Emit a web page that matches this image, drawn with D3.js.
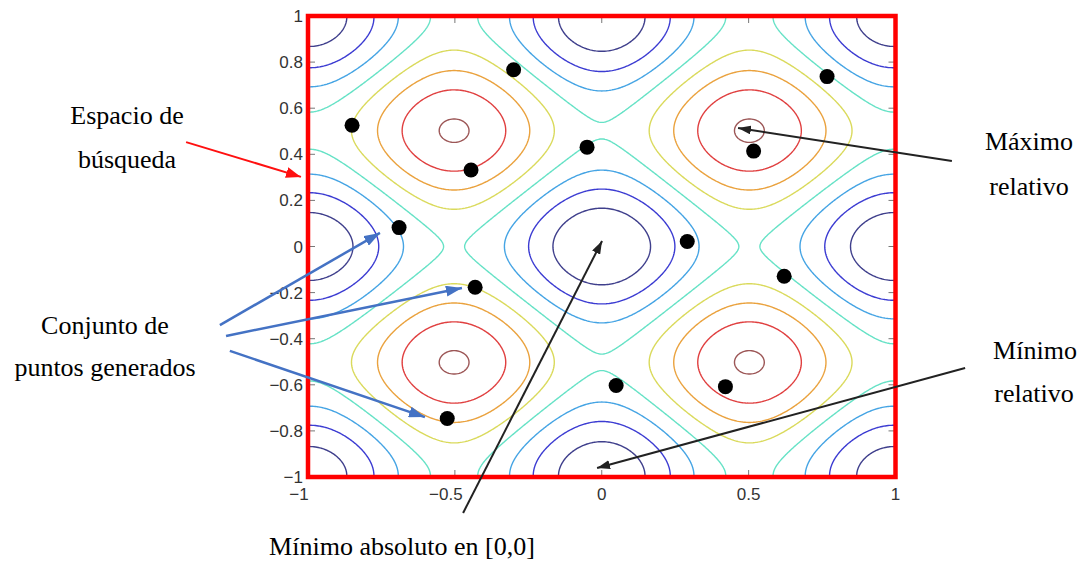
<!DOCTYPE html>
<html>
<head>
<meta charset="utf-8">
<script src="https://cdn.jsdelivr.net/npm/d3@7"></script>
</head>
<body style="margin:0;background:#fff">
<div id="chart"></div>
<script>
// contour levels of the Rastrigin surface and their colours
const levels = [5, 10, 15, 20, 25, 30, 35, 40];
const levelColors = ["#3f3f8c", "#3c3cd2", "#45a4e4", "#66e2c6", "#dada5c", "#eaa23e", "#e04040", "#9c5656"];

// tick values
const xTicks = [-1, -0.5, 0, 0.5, 1];
const yTicks = [-1, -0.8, -0.6, -0.4, -0.2, 0, 0.2, 0.4, 0.6, 0.8, 1];

// generated points
const pointsX = [-0.30, -0.85, -0.445, -0.05, -0.69, 0.767, 0.517, 0.291, -0.431, -0.526, 0.621, 0.049, 0.421];
const pointsY = [0.767, 0.526, 0.332, 0.431, 0.082, 0.737, 0.414, 0.022, -0.177, -0.746, -0.129, -0.603, -0.608];

const width = 1081, height = 561;
const x0 = 308, x1 = 895.5, y0 = 16, y1 = 477;
const sans = "'Liberation Sans', Arial, Helvetica, sans-serif";
const serif = "'Liberation Serif', 'Times New Roman', 'DejaVu Serif', serif";

const svg = d3.select("#chart").append("svg")
    .attr("width", width)
    .attr("height", height);

let x = d3.scaleLinear().domain([-1, 1]).range([x0, x1]),
    y = d3.scaleLinear().domain([-1, 1]).range([y1, y0]);

// arrow markers
const defs = svg.append("defs");
function marker(id, color, len, wid) {
  defs.append("marker")
      .attr("id", id)
      .attr("viewBox", "0 0 " + len + " " + wid)
      .attr("refX", len).attr("refY", wid / 2)
      .attr("markerUnits", "userSpaceOnUse")
      .attr("markerWidth", len).attr("markerHeight", wid)
      .attr("orient", "auto")
      .append("path")
      .attr("d", "M0,0L" + len + "," + (wid / 2) + "L0," + wid + "Z")
      .attr("fill", color);
}
marker("head-red", "#ff1010", 15, 11);
marker("head-blue", "#4472c4", 16, 11);
marker("head-black", "#222", 13, 9);

defs.append("clipPath").attr("id", "plot-clip")
  .append("rect")
    .attr("x", x0).attr("y", y0)
    .attr("width", x1 - x0).attr("height", y1 - y0);

// Rastrigin field on a grid
function rastrigin(a, b) {
  return 20 + a * a + b * b - 10 * (Math.cos(2 * Math.PI * a) + Math.cos(2 * Math.PI * b));
}
const n = 401;
const values = new Array(n * n);
for (let j = 0; j < n; j++) {
  for (let i = 0; i < n; i++) {
    values[j * n + i] = rastrigin(-1 + 2 * i / (n - 1), 1 - 2 * j / (n - 1));
  }
}

const contours = d3.contours().size([n, n]).thresholds(levels)(values);

const toPx = d3.geoTransform({
  point: function(gx, gy) {
    this.stream.point(x(-1 + 2 * (gx - 0.5) / (n - 1)), y(1 - 2 * (gy - 0.5) / (n - 1)));
  }
});
const path = d3.geoPath(toPx);

const plot = svg.append("g").attr("clip-path", "url(#plot-clip)");

plot.selectAll(".contour")
    .data(contours)
    .enter().append("path")
    .attr("class", "contour")
    .attr("d", path)
    .attr("fill", "none")
    .attr("stroke", d => levelColors[levels.indexOf(d.value)])
    .attr("stroke-width", 1.4)
    .attr("stroke-linejoin", "round");

// inner tick marks
const tickG = svg.append("g").attr("stroke", "#777").attr("stroke-width", 1);
xTicks.forEach(t => {
  tickG.append("line").attr("x1", x(t)).attr("x2", x(t)).attr("y1", y1).attr("y2", y1 - 7);
  tickG.append("line").attr("x1", x(t)).attr("x2", x(t)).attr("y1", y0).attr("y2", y0 + 7);
});
yTicks.forEach(t => {
  tickG.append("line").attr("x1", x0).attr("x2", x0 + 7).attr("y1", y(t)).attr("y2", y(t));
  tickG.append("line").attr("x1", x1).attr("x2", x1 - 7).attr("y1", y(t)).attr("y2", y(t));
});

// tick labels
const fmt = v => (v < 0 ? "\u2212" : "") + String(Math.abs(v));
svg.selectAll(".xlab")
    .data(xTicks)
    .enter().append("text")
    .attr("class", "xlab")
    .attr("font-family", sans)
    .attr("font-size", 17)
    .attr("fill", "#333")
    .attr("x", d => x(d) + (d < 0 ? -9 : 0))
    .attr("y", 500)
    .attr("text-anchor", "middle")
    .text(fmt);

svg.selectAll(".ylab")
    .data(yTicks)
    .enter().append("text")
    .attr("class", "ylab")
    .attr("font-family", sans)
    .attr("font-size", 17)
    .attr("fill", "#333")
    .attr("x", 303)
    .attr("y", d => y(d) + 6)
    .attr("text-anchor", "end")
    .text(fmt);

// points
svg.selectAll(".pt")
    .data(pointsX.map((v, i) => [v, pointsY[i]]))
    .enter().append("circle")
    .attr("class", "pt")
    .attr("cx", d => x(d[0]))
    .attr("cy", d => y(d[1]))
    .attr("r", 7.5)
    .attr("fill", "#000");

// red frame: search space
svg.append("rect")
    .attr("x", x0).attr("y", y0)
    .attr("width", x1 - x0).attr("height", y1 - y0)
    .attr("fill", "none")
    .attr("stroke", "#ff0000")
    .attr("stroke-width", 4.5);

// annotation arrows (data coordinates: start -> tip)
const arrows = [
  {from: [-1.415, 0.453], to: [-1.024, 0.302], color: "#ff1010", w: 2, head: "head-red"},
  {from: [-1.300, -0.341], to: [-0.755, 0.059], color: "#4472c4", w: 2.5, head: "head-blue"},
  {from: [-1.279, -0.388], to: [-0.476, -0.180], color: "#4472c4", w: 2.5, head: "head-blue"},
  {from: [-1.266, -0.453], to: [-0.602, -0.740], color: "#4472c4", w: 2.5, head: "head-blue"},
  {from: [1.192, 0.371], to: [0.464, 0.514], color: "#222", w: 2, head: "head-black"},
  {from: [1.237, -0.527], to: [-0.016, -0.961], color: "#222", w: 2, head: "head-black"},
  {from: [-0.472, -1.156], to: [0.001, 0.024], color: "#222", w: 2, head: "head-black"}
];
svg.selectAll(".arrow")
    .data(arrows)
    .enter().append("line")
    .attr("class", "arrow")
    .attr("x1", d => x(d.from[0])).attr("y1", d => y(d.from[1]))
    .attr("x2", d => x(d.to[0])).attr("y2", d => y(d.to[1]))
    .attr("stroke", d => d.color)
    .attr("stroke-width", d => d.w)
    .attr("marker-end", d => "url(#" + d.head + ")");

// annotation texts
const notes = [
  {t: "Espacio de", x: 127, y: 124},
  {t: "búsqueda", x: 127, y: 168},
  {t: "Conjunto de", x: 105, y: 334},
  {t: "puntos generados", x: 105, y: 376},
  {t: "Máximo", x: 1029, y: 150},
  {t: "relativo", x: 1029, y: 195},
  {t: "Mínimo", x: 1035, y: 359},
  {t: "relativo", x: 1034, y: 402},
  {t: "Mínimo absoluto en [0,0]", x: 402, y: 555}
];
svg.selectAll(".note")
    .data(notes)
    .enter().append("text")
    .attr("class", "note")
    .attr("font-family", serif)
    .attr("font-size", 26)
    .attr("fill", "#000")
    .attr("x", d => d.x).attr("y", d => d.y)
    .attr("text-anchor", "middle")
    .text(d => d.t);
</script>
</body>
</html>
